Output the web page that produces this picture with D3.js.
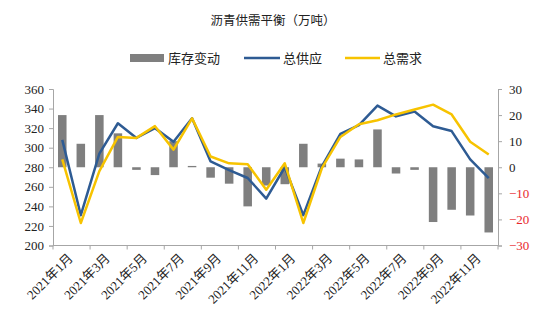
<!DOCTYPE html>
<html><head><meta charset="utf-8">
<script src="https://cdn.jsdelivr.net/npm/d3@7"></script>
<style>
body{margin:0;background:#fff;}
text{font-family:"Liberation Serif","DejaVu Serif","Noto Sans CJK SC",serif;}
</style></head>
<body><svg id="c" width="550" height="326"></svg>
<script>
const months = ["2021年1月","2021年2月","2021年3月","2021年4月","2021年5月","2021年6月","2021年7月","2021年8月","2021年9月","2021年10月","2021年11月","2021年12月",
"2022年1月","2022年2月","2022年3月","2022年4月","2022年5月","2022年6月","2022年7月","2022年8月","2022年9月","2022年10月","2022年11月","2022年12月"];
const inventory = [20,9,20,13,-1,-3,10,0.5,-4,-6.3,-15,-7,-6.5,9,1.4,3.3,3,14.5,-2.4,-1,-21,-16.3,-18.5,-25];
const supply = [308,231,294,325,310,320,306,330,286,277,269,248,280,231,281,314,323,343,332,337,322,317,288,269];
const demand = [288,223,276,311,310,322,298,330,291,284,283,257,284,223,279,311,324,328,334,339,344,334,306,293];
const leftTicks = [200,220,240,260,280,300,320,340,360];
const rightTicks = [-30,-20,-10,0,10,20,30];

const svg = d3.select("#c");
const x0 = 53, x1 = 498, yTop = 89, yBot = 245.5;
const x = d3.scaleBand().domain(months).range([x0,x1]).paddingInner(0.54).paddingOuter(0.27);
const yL = d3.scaleLinear().domain([200,360]).range([yBot,yTop]);
const yR = d3.scaleLinear().domain([-30,30]).range([yBot,yTop]);
const axisColor = "#a6a6a6";

// title
svg.append("text").attr("x",273).attr("y",25).attr("text-anchor","middle")
  .attr("font-size",12.5).attr("fill","#222").text("沥青供需平衡（万吨）");

// legend
const lg = svg.append("g");
lg.append("rect").attr("x",130).attr("y",54).attr("width",34).attr("height",8).attr("fill","#7f7f7f");
lg.append("text").attr("x",168).attr("y",62.5).attr("font-size",13).attr("fill","#222").text("库存变动");
lg.append("line").attr("x1",244).attr("x2",280).attr("y1",58).attr("y2",58).attr("stroke","#2e5b93").attr("stroke-width",2.5);
lg.append("text").attr("x",283).attr("y",62.5).attr("font-size",13).attr("fill","#222").text("总供应");
lg.append("line").attr("x1",345).attr("x2",380).attr("y1",58).attr("y2",58).attr("stroke","#f7c300").attr("stroke-width",2.5);
lg.append("text").attr("x",383).attr("y",62.5).attr("font-size",13).attr("fill","#222").text("总需求");

// bars
svg.append("g").selectAll("rect").data(inventory).join("rect")
  .attr("x",(d,i)=>x(months[i]))
  .attr("width",x.bandwidth())
  .attr("y",d=>Math.min(yR(d),yR(0)))
  .attr("height",d=>Math.abs(yR(d)-yR(0)))
  .attr("fill","#7f7f7f");

// lines
const cx = i => x(months[i]) + x.bandwidth()/2;
const lineL = d3.line().x((d,i)=>cx(i)).y(d=>yL(d));
svg.append("path").datum(supply).attr("d",lineL).attr("fill","none")
  .attr("stroke","#2e5b93").attr("stroke-width",2.5).attr("stroke-linejoin","round");
svg.append("path").datum(demand).attr("d",lineL).attr("fill","none")
  .attr("stroke","#f7c300").attr("stroke-width",2.5).attr("stroke-linejoin","round");

// left axis
const gl = svg.append("g").attr("transform",`translate(${x0},0)`)
  .call(d3.axisLeft(yL).tickValues(leftTicks).tickSize(4).tickPadding(5));
gl.selectAll("path,line").attr("stroke",axisColor);
gl.selectAll("text").attr("font-size",13).attr("fill","#222").style("font-family",'"Liberation Serif",serif');

// right axis
const gr = svg.append("g").attr("transform",`translate(${x1},0)`)
  .call(d3.axisRight(yR).tickValues(rightTicks).tickSize(4).tickPadding(7).tickFormat(d=>d<0?"−"+Math.abs(d):d));
gr.selectAll("path,line").attr("stroke",axisColor);
gr.selectAll("text").attr("font-size",13).attr("fill",d=>d<0?"#e8262b":"#222").style("font-family",'"Liberation Serif",serif');

// bottom axis
const gb = svg.append("g").attr("transform",`translate(0,${yBot})`);
gb.append("line").attr("x1",x0).attr("x2",x1).attr("stroke",axisColor);
const tickPos = d3.range(0,25,2).map(k=>x0 + (x1-x0)*k/24);
gb.selectAll("line.t").data(tickPos).join("line").attr("class","t")
  .attr("x1",d=>d).attr("x2",d=>d).attr("y1",0).attr("y2",4).attr("stroke",axisColor);
gb.selectAll("text").data(months.filter((m,i)=>i%2===0)).join("text")
  .attr("transform",d=>`translate(${cx(months.indexOf(d))+5},${7}) rotate(-45)`)
  .attr("text-anchor","end").attr("dy","0.7em").attr("font-size",13).attr("fill","#222").text(d=>d);
</script></body></html>
